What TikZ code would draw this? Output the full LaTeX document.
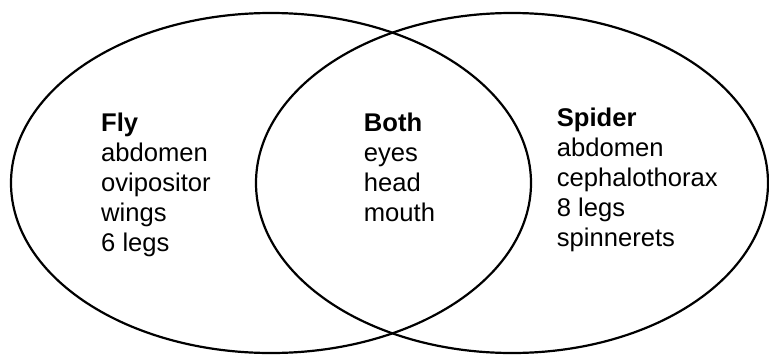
\documentclass[tikz,border=0pt]{standalone}
\usepackage{fontspec}
\setmainfont{Liberation Sans}
\begin{document}
\begin{tikzpicture}[x=1pt,y=-1pt,
  ring/.style={draw=black,line width=2.2pt},
  label/.style={anchor=base west,inner sep=0pt,align=left,font=\fontsize{25.6}{30}\selectfont}]
\useasboundingbox (0,0) rectangle (769,354);
\draw[ring] (271,183) ellipse [x radius=260, y radius=170];
\draw[ring] (512,183) ellipse [x radius=256, y radius=170];
% anchor base = baseline of the last line
\node[label] (fly) at (101,251.7) {\textbf{Fly}\\abdomen\\ovipositor\\wings\\6 legs};
\node[label] (both) at (363.7,221.7) {\textbf{Both}\\eyes\\head\\mouth};
\node[label] (spider) at (556.7,246.7) {\textbf{Spider}\\abdomen\\cephalothorax\\8 legs\\spinnerets};
\end{tikzpicture}
\end{document}
